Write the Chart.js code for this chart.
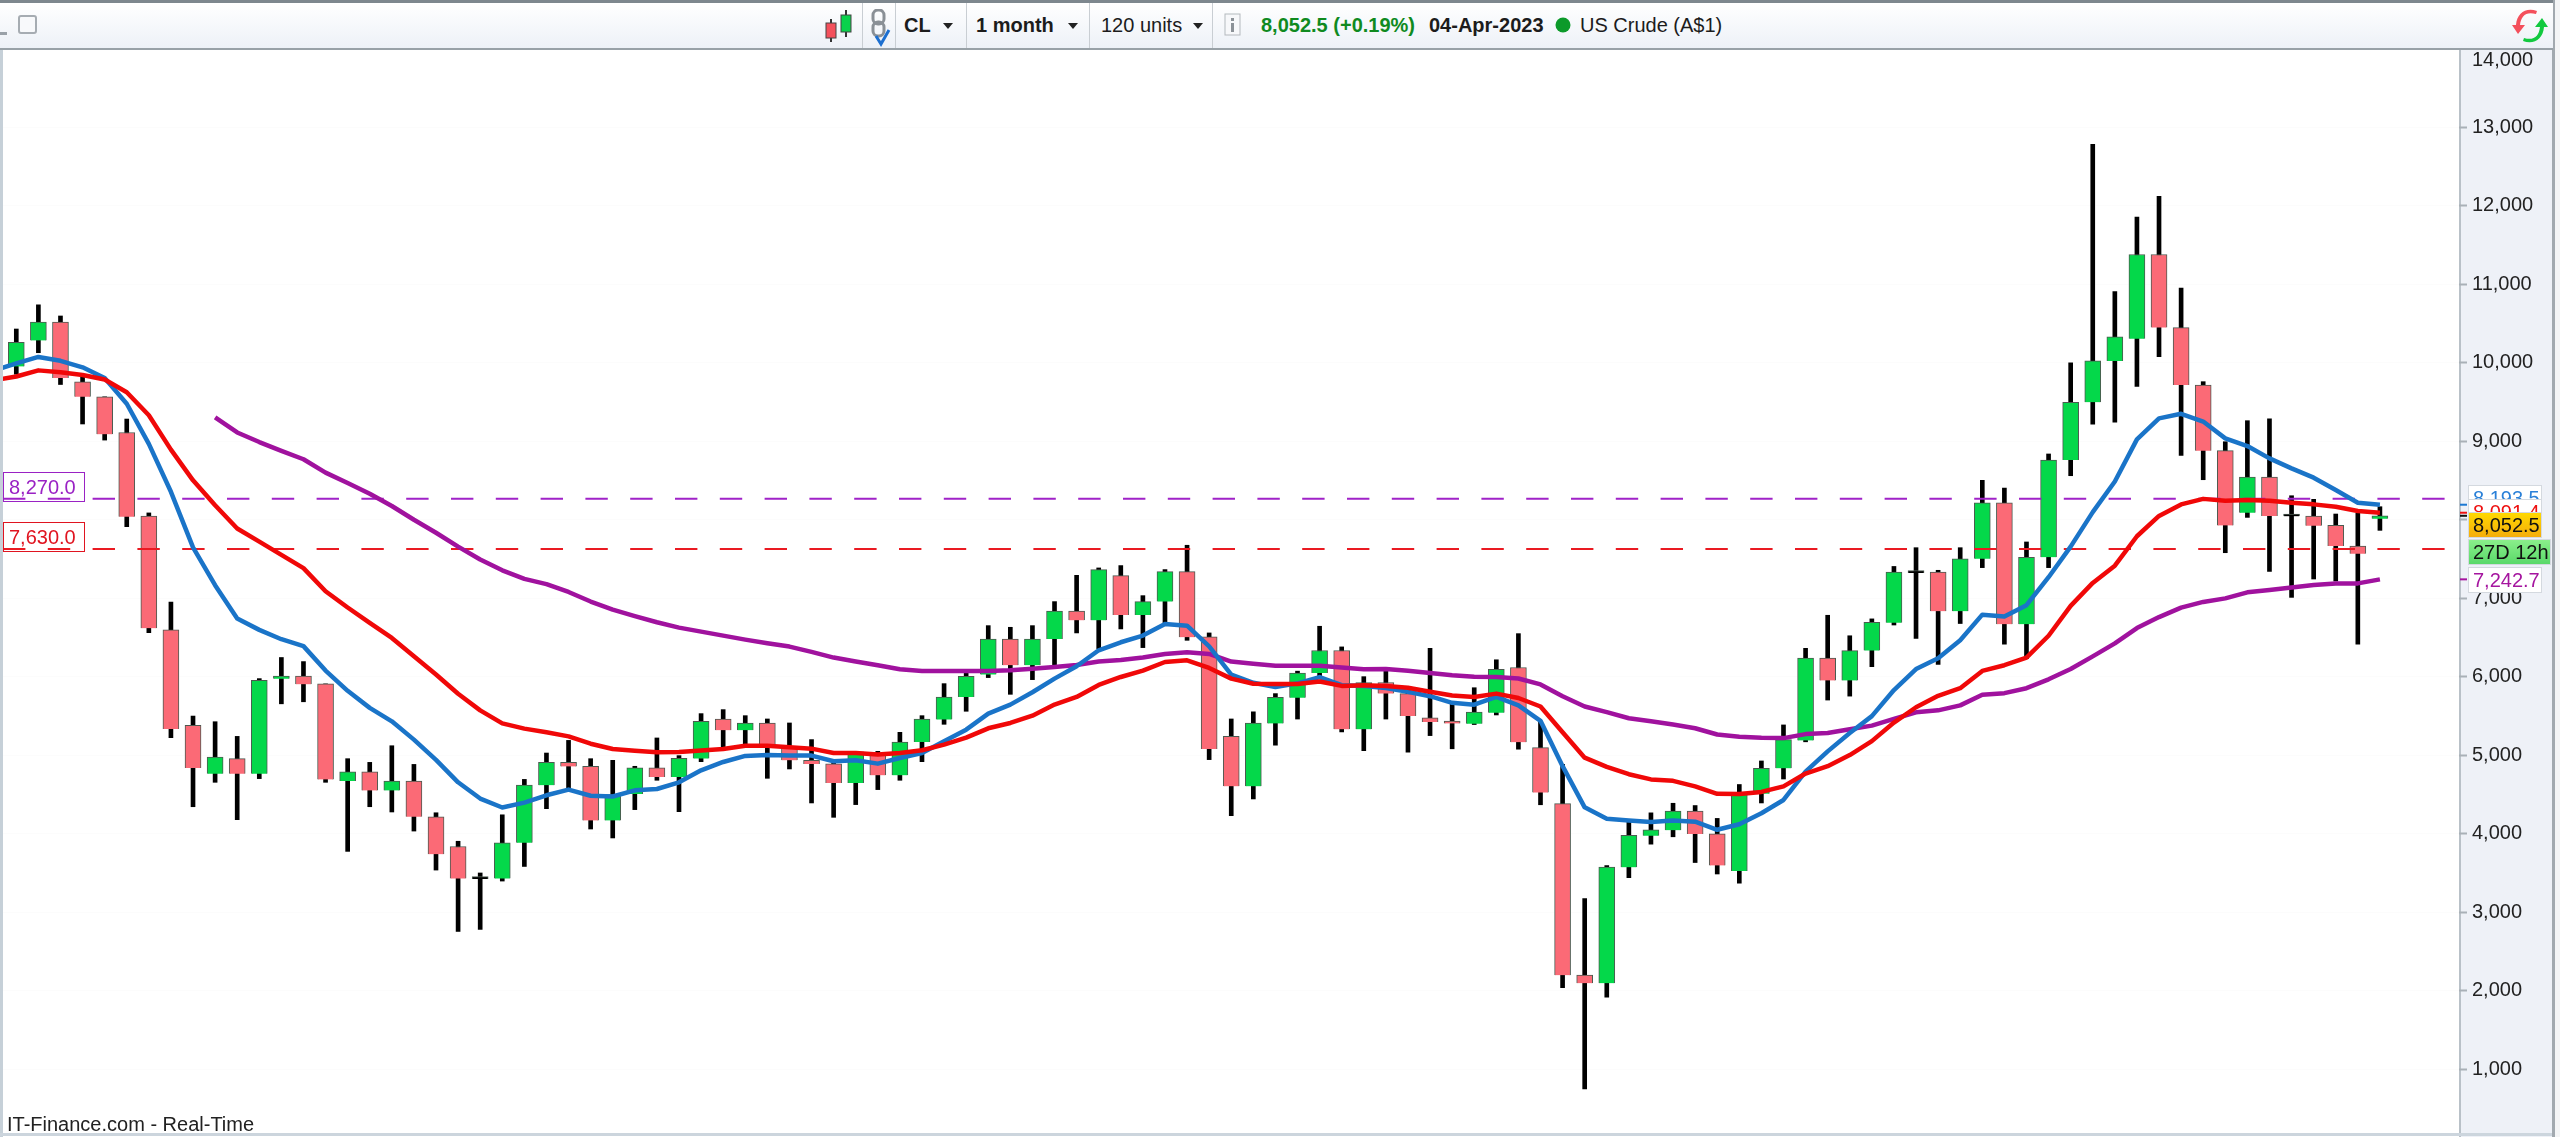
<!DOCTYPE html>
<html>
<head>
<meta charset="utf-8">
<title>US Crude (A$1)</title>
<script src="https://cdn.jsdelivr.net/npm/chart.js@4/dist/chart.umd.min.js"></script>
<style>
  html, body { margin: 0; padding: 0; background: #fff; overflow: hidden; }
  body { width: 2560px; height: 1137px; position: relative; font-family: "Liberation Sans", Arial, sans-serif; }
  canvas { position: absolute; left: 0; top: 0; }
  .toolbar { position: absolute; left: 0; top: 0; width: 2553px; height: 45px; border-top: 3px solid #7d878e; border-bottom: 2px solid #98a1a7;
    background: linear-gradient(#ffffff, #edf1f7); }
  .toolbar span, .toolbar i { position: absolute; top: 11px; font-size: 20px; line-height: 23px; white-space: nowrap; font-style: normal; color: #1c1c1c; }
  .toolbar i.sep { top: 0; width: 1px; height: 45px; background: #c9ced3; }
  .toolbar svg { position: absolute; }
  .bold { font-weight: bold; }
  .tri { width: 0; height: 0; top: 20px !important; border-left: 5px solid transparent; border-right: 5px solid transparent; border-top: 6px solid #222; }
  .footer { position: absolute; left: 7px; top: 1112px; font-size: 20px; line-height: 24px; color: #222; }
</style>
</head>
<body>
<canvas id="price" width="2560" height="1137"></canvas>
<div class="toolbar">
  <svg style="left:0;top:28px" width="8" height="5"><rect width="7" height="3" y="1" fill="#9aa1a8"/></svg>
  <svg style="left:18px;top:12px" width="20" height="20"><rect x="1" y="1" width="17" height="17" rx="2" fill="#f8f9fb" stroke="#a6acb2" stroke-width="2"/></svg>
  <svg style="left:824px;top:5px" width="30" height="36">
    <line x1="7" y1="11" x2="7" y2="34" stroke="#333" stroke-width="2"/><rect x="2" y="15" width="10" height="15" fill="#f4505c" stroke="#444"/>
    <line x1="22" y1="2" x2="22" y2="29" stroke="#333" stroke-width="2"/><rect x="17" y="7" width="10" height="17" fill="#0ad24c" stroke="#444"/>
  </svg>
  <i class="sep" style="left:862px"></i>
  <svg style="left:868px;top:6px" width="24" height="38">
    <rect x="5" y="1" width="11" height="14" rx="5" fill="none" stroke="#8a9096" stroke-width="3"/>
    <rect x="5" y="13" width="11" height="14" rx="5" fill="none" stroke="#8a9096" stroke-width="3"/>
    <path d="M8 27 L13 35 L21 21" fill="none" stroke="#1c6fd0" stroke-width="3"/>
  </svg>
  <i class="sep" style="left:895px"></i>
  <span class="bold" style="left:904px">CL</span><i class="tri" style="left:943px"></i>
  <i class="sep" style="left:966px"></i>
  <span class="bold" style="left:976px">1 month</span><i class="tri" style="left:1068px"></i>
  <i class="sep" style="left:1089px"></i>
  <span style="left:1101px">120 units</span><i class="tri" style="left:1193px"></i>
  <i class="sep" style="left:1212px"></i>
  <svg style="left:1224px;top:10px" width="18" height="24"><rect x="1" y="1" width="15" height="21" fill="#f7f8fa" stroke="#b4b9be"/><rect x="7" y="5" width="3" height="3" fill="#8b9197"/><rect x="7" y="10" width="3" height="9" fill="#8b9197"/></svg>
  <span class="bold" style="left:1261px;color:#0f8a1f">8,052.5 (+0.19%)</span>
  <span class="bold" style="left:1429px">04-Apr-2023</span>
  <svg style="left:1555px;top:14px" width="17" height="17"><circle cx="8" cy="8" r="7.5" fill="#0c9a2a"/></svg>
  <span style="left:1580px">US Crude (A$1)</span>
  <svg style="left:2512px;top:6px" width="36" height="34">
    <path d="M24 5 C14 2 9 7 8 16 L13 16 L6 25 L0 16 L4 16 C5 4 14 -2 25 2 Z" fill="#f4505c"/>
    <path d="M12 29 C22 32 27 27 28 18 L23 18 L30 9 L36 18 L32 18 C31 30 22 36 11 32 Z" fill="#12c93f"/>
  </svg>
</div>
<div class="footer">IT-Finance.com - Real-Time</div>

<script>
const months = [
  'Jan 2014','Feb 2014','Mar 2014','Apr 2014','May 2014','Jun 2014','Jul 2014','Aug 2014','Sep 2014','Oct 2014','Nov 2014','Dec 2014',
  'Jan 2015','Feb 2015','Mar 2015','Apr 2015','May 2015','Jun 2015','Jul 2015','Aug 2015','Sep 2015','Oct 2015','Nov 2015','Dec 2015',
  'Jan 2016','Feb 2016','Mar 2016','Apr 2016','May 2016','Jun 2016','Jul 2016','Aug 2016','Sep 2016','Oct 2016','Nov 2016','Dec 2016',
  'Jan 2017','Feb 2017','Mar 2017','Apr 2017','May 2017','Jun 2017','Jul 2017','Aug 2017','Sep 2017','Oct 2017','Nov 2017','Dec 2017',
  'Jan 2018','Feb 2018','Mar 2018','Apr 2018','May 2018','Jun 2018','Jul 2018','Aug 2018','Sep 2018','Oct 2018','Nov 2018','Dec 2018',
  'Jan 2019','Feb 2019','Mar 2019','Apr 2019','May 2019','Jun 2019','Jul 2019','Aug 2019','Sep 2019','Oct 2019','Nov 2019','Dec 2019',
  'Jan 2020','Feb 2020','Mar 2020','Apr 2020','May 2020','Jun 2020','Jul 2020','Aug 2020','Sep 2020','Oct 2020','Nov 2020','Dec 2020',
  'Jan 2021','Feb 2021','Mar 2021','Apr 2021','May 2021','Jun 2021','Jul 2021','Aug 2021','Sep 2021','Oct 2021','Nov 2021','Dec 2021',
  'Jan 2022','Feb 2022','Mar 2022','Apr 2022','May 2022','Jun 2022','Jul 2022','Aug 2022','Sep 2022','Oct 2022','Nov 2022','Dec 2022',
  'Jan 2023','Feb 2023','Mar 2023','Apr 2023'
];

const opens = [
  9954,10286,10520,9759,9568,9114,8050,6599,5382,4766,
  4958,4766,5975,6009,5911,4673,4792,4554,4673,4217,
  3839,3425,3430,3886,4621,4911,4859,4170,4508,4840,
  4725,4959,5464,5320,5413,5095,4937,4891,4649,5010,
  4746,5171,5456,5744,6029,6483,6148,6483,6840,6721,
  7290,6789,6959,7341,6509,5243,4606,5407,5735,6049,
  6336,5332,5928,5787,5477,5437,5402,5543,6120,5098,
  4385,2200,2097,3574,3977,4047,4291,4000,3527,4511,
  4835,5191,6240,5955,6335,6690,7325,7334,6836,7504,
  8216,6671,7524,8762,9499,10025,10308,11381,10450,9718,
  8882,8092,8546,8045,8049,7930,7667,8015
];
const closes = [
  10261,10520,9807,9568,9090,8041,6620,5336,4838,4978,
  4766,5957,6011,5905,4694,4792,4554,4673,4217,3741,
  3430,3455,3886,4621,4911,4859,4170,4502,4840,4725,
  4963,5434,5320,5413,5107,4937,4891,4649,5044,4746,
  5171,5464,5744,6008,6483,6148,6483,6840,6721,7367,
  6789,6959,7341,6505,5082,4606,5410,5740,6049,6336,
  5332,5928,5787,5501,5426,5406,5552,6096,5168,4526,
  2200,2097,3578,3982,4052,4291,4000,3597,4511,4835,
  5201,6240,5955,6335,6695,7334,7355,6836,7504,8216,
  6671,7524,8762,9499,10025,10333,11381,10450,9718,8882,
  7930,8546,8049,8075,7926,7667,7569,8052.5
];
const highs = [
  10432,10740,10598,9822,9568,9285,8089,6952,5501,5429,
  5242,5978,6247,6195,5911,4958,4911,5123,4885,4269,
  3906,3502,4243,4694,5030,5191,4958,4937,4861,5222,
  4997,5532,5583,5506,5464,5413,5201,4910,5052,5052,
  5294,5506,5914,6050,6653,6632,6653,6959,7294,7388,
  7418,7035,7367,7677,6560,5464,5555,5787,6073,6645,
  6382,6003,6082,5800,6364,5684,5862,6218,6551,5426,
  4887,3175,3597,4150,4268,4390,4361,4197,4629,4929,
  5388,6364,6785,6524,6739,7407,7646,7358,7646,8504,
  8407,7719,8840,10001,12785,10908,11859,12122,10952,9761,
  8996,9264,9289,8308,8262,8075,8083,8168
];
const lows = [
  9856,10130,9725,9222,9017,7914,6563,5227,4346,4657,
  4181,4704,5657,5683,4657,3777,4346,4279,4036,3539,
  2757,2783,3399,3585,4321,4580,4062,3948,4309,4683,
  4283,4920,5095,5137,4708,4827,4394,4211,4373,4564,
  4683,4920,5396,5562,5991,5778,5965,6156,6560,6360,
  6611,6373,6679,6466,4946,4232,4445,5130,5463,6012,
  5299,5060,5463,5041,5252,5084,5393,5515,5079,4371,
  2040,751,1919,3442,3869,3963,3635,3489,3372,4394,
  4699,5173,5705,5755,6130,6661,6490,6159,6680,7392,
  6417,6232,7392,8563,9221,9245,9699,10079,8821,8512,
  7582,8032,7344,7013,7247,7221,6418,7867
];

// moving averages start one month before the first candle, it runs off the left edge
const blueAvg = [
  9905,9993,10076,10027,9944,9808,9480,8968,8358,7650,
  7169,6744,6599,6480,6392,6081,5823,5605,5434,5201,
  4942,4657,4450,4336,4398,4492,4564,4486,4476,4555,
  4572,4657,4810,4916,4993,5005,4997,4997,4925,4937,
  4895,4967,5031,5180,5328,5532,5647,5804,5978,6135,
  6339,6441,6526,6674,6653,6390,6029,5925,5871,5918,
  5998,5895,5885,5857,5810,5754,5670,5646,5745,5637,
  5440,4863,4338,4193,4169,4150,4169,4155,4052,4122,
  4263,4432,4793,5051,5285,5500,5832,6100,6237,6466,
  6793,6768,6914,7270,7660,8099,8489,9026,9294,9352,
  9253,9039,8941,8784,8657,8538,8380,8219,8193.5
];
const redAvg = [
  9778,9827,9905,9881,9847,9788,9627,9334,8895,8504,
  8187,7890,7723,7555,7385,7091,6884,6687,6496,6263,
  6030,5786,5574,5408,5341,5294,5242,5149,5082,5060,
  5039,5044,5061,5082,5124,5124,5103,5086,5031,5031,
  5010,5031,5065,5137,5226,5345,5413,5506,5647,5744,
  5897,5999,6080,6190,6211,6114,5978,5912,5909,5909,
  5942,5885,5895,5885,5862,5810,5763,5745,5787,5731,
  5623,5295,4971,4854,4760,4694,4676,4605,4511,4507,
  4535,4605,4769,4863,5004,5182,5418,5613,5759,5856,
  6076,6149,6246,6524,6905,7197,7417,7792,8051,8197,
  8268,8245,8253,8245,8219,8198,8168,8113,8091.4
];
const purpleAvg = [
  null,null,null,null,null,null,null,null,null,null,
  9305,9114,8992,8880,8773,8602,8470,8333,8177,8002,
  7836,7660,7495,7358,7248,7182,7082,6960,6858,6775,
  6696,6628,6577,6526,6475,6428,6386,6318,6246,6195,
  6148,6097,6076,6076,6076,6076,6084,6105,6127,6152,
  6195,6216,6246,6292,6313,6292,6195,6168,6143,6143,
  6143,6120,6096,6101,6078,6049,6021,6003,5998,5979,
  5904,5754,5623,5552,5473,5435,5393,5346,5266,5238,
  5224,5220,5271,5285,5332,5379,5466,5549,5574,5637,
  5773,5793,5856,5969,6100,6261,6427,6622,6762,6883,
  6955,7000,7077,7106,7140,7170,7191,7191,7242.7
];

const levelPurple = 8270;
const levelRed = 7630;
const priceTicks = [1000,2000,3000,4000,5000,6000,7000,8000,9000,10000,11000,12000,13000,14000];
const lastPrice = 8052.5;
const countdown = '27D 12h';

const green = '#04d84a';
const red = '#fb6a76';

function fmt(v) {
  return v.toLocaleString('en-US');
}
function fmt1(v) {
  return v.toLocaleString('en-US', { minimumFractionDigits: 1, maximumFractionDigits: 1 });
}

const bodyColors = opens.map((o, i) => {
  if (Math.abs(closes[i] - o) <= 30) return '#000';
  return closes[i] > o ? green : red;
});

function avgPoints(list) {
  return list.map((v, i) => ({ x: i - 1, y: v })).filter(p => p.y !== null);
}

const xFrom = -0.602;
const xTo = 110.58;
const levelEnd = 109.95;

const panelPlugin = {
  id: 'panel',
  beforeDraw(chart) {
    const c = chart.ctx;
    const a = chart.chartArea;
    c.save();
    c.fillStyle = '#eef1f7';
    c.fillRect(a.right, a.top, 94, 1137 - a.top);
    c.fillStyle = '#f4f5f6';
    c.fillRect(a.right + 94, 0, 10, 1137);
    c.fillStyle = '#b9c1c8';
    c.fillRect(a.right, a.top, 2, 1137 - a.top);
    c.fillStyle = '#a2a9af';
    c.fillRect(a.right + 93, 0, 3, 1137);
    c.fillStyle = '#c6d0d8';
    c.fillRect(0, a.top, 3, 1137 - a.top);
    c.fillStyle = '#ccd5dd';
    c.fillRect(0, a.bottom + 1, a.right + 93, 3);
    c.restore();
  },
  afterDraw(chart) {
    const c = chart.ctx;
    const a = chart.chartArea;
    const y = chart.scales.y;
    c.save();
    c.font = '20px "Liberation Sans"';
    c.textBaseline = 'middle';

    // level tags on the left
    [[levelPurple, '#9a22c4', 472], [levelRed, '#e01420', 522]].forEach(t => {
      c.strokeStyle = t[1];
      c.lineWidth = 1;
      c.strokeRect(3.5, t[2] + 0.5, 81, 29);
      c.fillStyle = t[1];
      c.textAlign = 'left';
      c.fillText(fmt1(t[0]), 9, t[2] + 16);
    });

    // small ticks for the averages and last price
    [[blueAvg, '#1c78d2'], [redAvg, '#ee1111'], [purpleAvg, '#a5159f']].forEach(t => {
      c.fillStyle = t[1];
      c.fillRect(a.right + 1, y.getPixelForValue(t[0][t[0].length - 1]) - 1, 7, 2);
    });
    c.fillStyle = '#111';
    c.fillRect(a.right + 1, y.getPixelForValue(lastPrice) - 1, 7, 2);

    // price tags, stacked so they do not overlap
    const tag = (text, top, h, w, fill, color) => {
      c.fillStyle = fill;
      c.fillRect(2468, top, w, h);
      c.strokeStyle = '#d4d9df';
      c.lineWidth = 1;
      c.strokeRect(2468.5, top + 0.5, w - 1, h - 1);
      c.fillStyle = color;
      c.textAlign = 'left';
      c.fillText(text, 2473, top + h / 2 + 1);
    };
    tag(fmt1(blueAvg[blueAvg.length - 1]), 485, 26, 74, '#ffffff', '#2a80d8');
    tag(fmt1(redAvg[redAvg.length - 1]), 499, 26, 74, '#ffffff', '#ee1111');

    let g = c.createLinearGradient(0, 512, 0, 538);
    g.addColorStop(0, '#ffda00');
    g.addColorStop(1, '#f4ab0c');
    tag(fmt1(lastPrice), 512, 26, 74, g, '#111');

    g = c.createLinearGradient(0, 539, 0, 565);
    g.addColorStop(0, '#8cf08c');
    g.addColorStop(1, '#58d868');
    tag(countdown, 539, 26, 83, g, '#111');

    tag(fmt1(purpleAvg[purpleAvg.length - 1]), 567, 26, 74, '#ffffff', '#a5159f');
    c.restore();
  }
};

new Chart(document.getElementById('price'), {
  data: {
    labels: months,
    datasets: [
      {
        type: 'line', label: 'MA red', order: 1,
        data: avgPoints(redAvg),
        borderColor: '#f00808', borderWidth: 4.5, pointRadius: 0, tension: 0, borderJoinStyle: 'round'
      },
      {
        type: 'line', label: 'MA blue', order: 2,
        data: avgPoints(blueAvg),
        borderColor: '#1a74c8', borderWidth: 4.5, pointRadius: 0, tension: 0, borderJoinStyle: 'round'
      },
      {
        type: 'line', label: 'MA purple', order: 3,
        data: avgPoints(purpleAvg),
        borderColor: '#a0129e', borderWidth: 4.5, pointRadius: 0, tension: 0, borderJoinStyle: 'round'
      },
      {
        type: 'line', label: 'Level purple', order: 4,
        data: [{ x: xFrom, y: levelPurple }, { x: levelEnd, y: levelPurple }],
        borderColor: '#a022c8', borderWidth: 2, borderDash: [22.4, 22.4], pointRadius: 0
      },
      {
        type: 'line', label: 'Level red', order: 4,
        data: [{ x: xFrom, y: levelRed }, { x: levelEnd, y: levelRed }],
        borderColor: '#ea1a22', borderWidth: 2, borderDash: [22.4, 22.4], pointRadius: 0
      },
      {
        type: 'bar', label: 'Body', order: 5, grouped: false,
        data: months.map((m, i) => ({ x: i, y: [opens[i], closes[i]] })),
        backgroundColor: bodyColors,
        borderColor: '#4c5a50', borderWidth: 1, barThickness: 16
      },
      {
        type: 'bar', label: 'Wick', order: 6, grouped: false,
        data: months.map((m, i) => ({ x: i, y: [lows[i], highs[i]] })),
        backgroundColor: '#000', borderWidth: 0, barThickness: 4
      }
    ]
  },
  options: {
    responsive: false,
    animation: false,
    events: [],
    layout: { autoPadding: false, padding: { left: 3, right: 7, top: 48, bottom: 5 } },
    plugins: { legend: { display: false }, tooltip: { enabled: false }, title: { display: false } },
    scales: {
      x: { type: 'linear', offset: false, min: xFrom, max: xTo, display: false },
      y: {
        position: 'right',
        min: 202,
        max: 14012,
        afterBuildTicks(scale) {
          scale.ticks = priceTicks.map(v => ({ value: v }));
        },
        afterFit(scale) {
          scale.width = 94;
          // labels overhang is not wanted, the plot runs to the frame
          scale.paddingTop = 0;
          scale.paddingBottom = 0;
        },
        border: { display: false },
        grid: { color: 'rgba(0,0,0,0.012)', tickColor: '#a9b0b7', tickLength: 8, tickWidth: 2 },
        ticks: {
          autoSkip: false,
          padding: 5,
          color: '#222',
          font: { family: '"Liberation Sans"', size: 20 },
          // top label sits below the tick, there is no room above it
          callback: v => (v === 14000 ? ['', fmt(v)] : fmt(v))
        }
      }
    }
  },
  plugins: [panelPlugin]
});
</script>
</body>
</html>
